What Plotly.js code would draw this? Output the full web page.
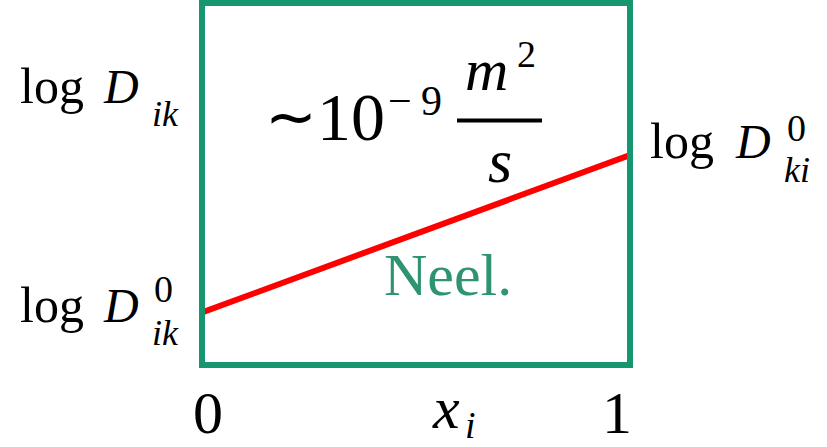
<!DOCTYPE html>
<html>
<head>
<meta charset="utf-8">
<script src="https://cdn.plot.ly/plotly-3.0.1.min.js"></script>
<style>
  html, body { margin: 0; padding: 0; background: #ffffff; }
  #chart { width: 827px; height: 447px; }
  #chart .annotation-text { font-family: 'Liberation Serif' !important; }
</style>
</head>
<body>
<div id="chart"></div>
<script>
// Mole fraction of component i across the binary mixture
const moleFraction = [0, 1];
// log of the Maxwell–Stefan diffusivity at the two infinite-dilution limits
const logDiffusivity = [0.145, 0.58];
// Labels along the composition axis
const xTickValues = [0, 1];
const xTickLabels = ['0', '1'];

const W = 827, H = 447;
const box = { l: 202, r: 630, t: 3, b: 365 };
const green = '#15966f';
const serifFont = 'Liberation Serif';

// pixel -> paper helpers for the text pieces
const px = x => (x - box.l) / (box.r - box.l);
const py = y => (box.b - y) / (box.b - box.t);

// one text piece, centred at x, sitting on the given baseline
function txt(text, x, baseline, size, italic, color) {
  return {
    text: italic ? '<i>' + text + '</i>' : text,
    xref: 'paper', yref: 'paper',
    x: px(x), y: py(baseline - 0.34 * size),
    xanchor: 'center', yanchor: 'middle',
    showarrow: false,
    font: { family: serifFont, size: size, color: color || '#000000' }
  };
}

const annotations = [
  // log D_ik (upper left)
  txt('log', 52, 103, 50),
  txt('D', 121, 103, 48, true),
  txt('ik', 165, 126, 36, true),
  // log D^0_ik (lower left)
  txt('log', 52, 322, 50),
  txt('D', 121, 322, 48, true),
  txt('0', 163, 302, 38),
  txt('ik', 165, 345, 36, true),
  // log D^0_ki (right)
  txt('log', 682, 158, 50),
  txt('D', 753, 158, 48, true),
  txt('0', 796, 141, 38),
  txt('ki', 797, 182, 36, true),
  // composition axis variable
  txt('x', 446, 428, 60, true),
  txt('i', 470, 438, 38, true),
  // order of magnitude
  txt('\u223C', 291, 138, 62),
  txt('10', 351, 140, 68),
  txt('\u2212', 400, 115, 42),
  txt('9', 431, 115, 42),
  txt('m', 486, 90, 60, true),
  txt('2', 526, 67, 38),
  txt('s', 500, 182, 62, true),
  // regime label
  txt('Neel.', 448, 295, 60, false, '#2e9470')
];

// tick labels at the ends of the composition axis
const tickCentre = [208, 617];
xTickValues.forEach((v, i) => {
  annotations.push({
    text: xTickLabels[i], xref: 'x', yref: 'paper',
    x: v, xshift: tickCentre[i] - (box.l + v * (box.r - box.l)),
    y: py(433 - 0.34 * 60),
    xanchor: 'center', yanchor: 'middle', showarrow: false,
    font: { family: serifFont, size: 60, color: '#000000' }
  });
});

const trace = {
  x: moleFraction,
  y: logDiffusivity,
  mode: 'lines',
  line: { color: '#ff0000', width: 6 },
  cliponaxis: false,
  hoverinfo: 'skip'
};

const layout = {
  width: W, height: H,
  font: { family: serifFont, color: '#000000' },
  margin: { l: box.l, r: W - box.r, t: box.t, b: H - box.b, pad: 0 },
  paper_bgcolor: '#ffffff', plot_bgcolor: '#ffffff',
  showlegend: false,
  xaxis: { range: [0, 1], visible: false },
  yaxis: { range: [0, 1], visible: false },
  shapes: [
    // frame of the plotting region
    { type: 'rect', xref: 'paper', yref: 'paper', x0: 0, x1: 1, y0: 0, y1: 1,
      line: { color: green, width: 6 }, layer: 'above' },
    // fraction bar of m^2/s
    { type: 'line', xref: 'paper', yref: 'paper',
      x0: px(457), x1: px(542), y0: py(120.5), y1: py(120.5),
      line: { color: '#000000', width: 4 } }
  ],
  annotations: annotations
};

Plotly.newPlot('chart', [trace], layout, { staticPlot: true });
</script>
</body>
</html>
